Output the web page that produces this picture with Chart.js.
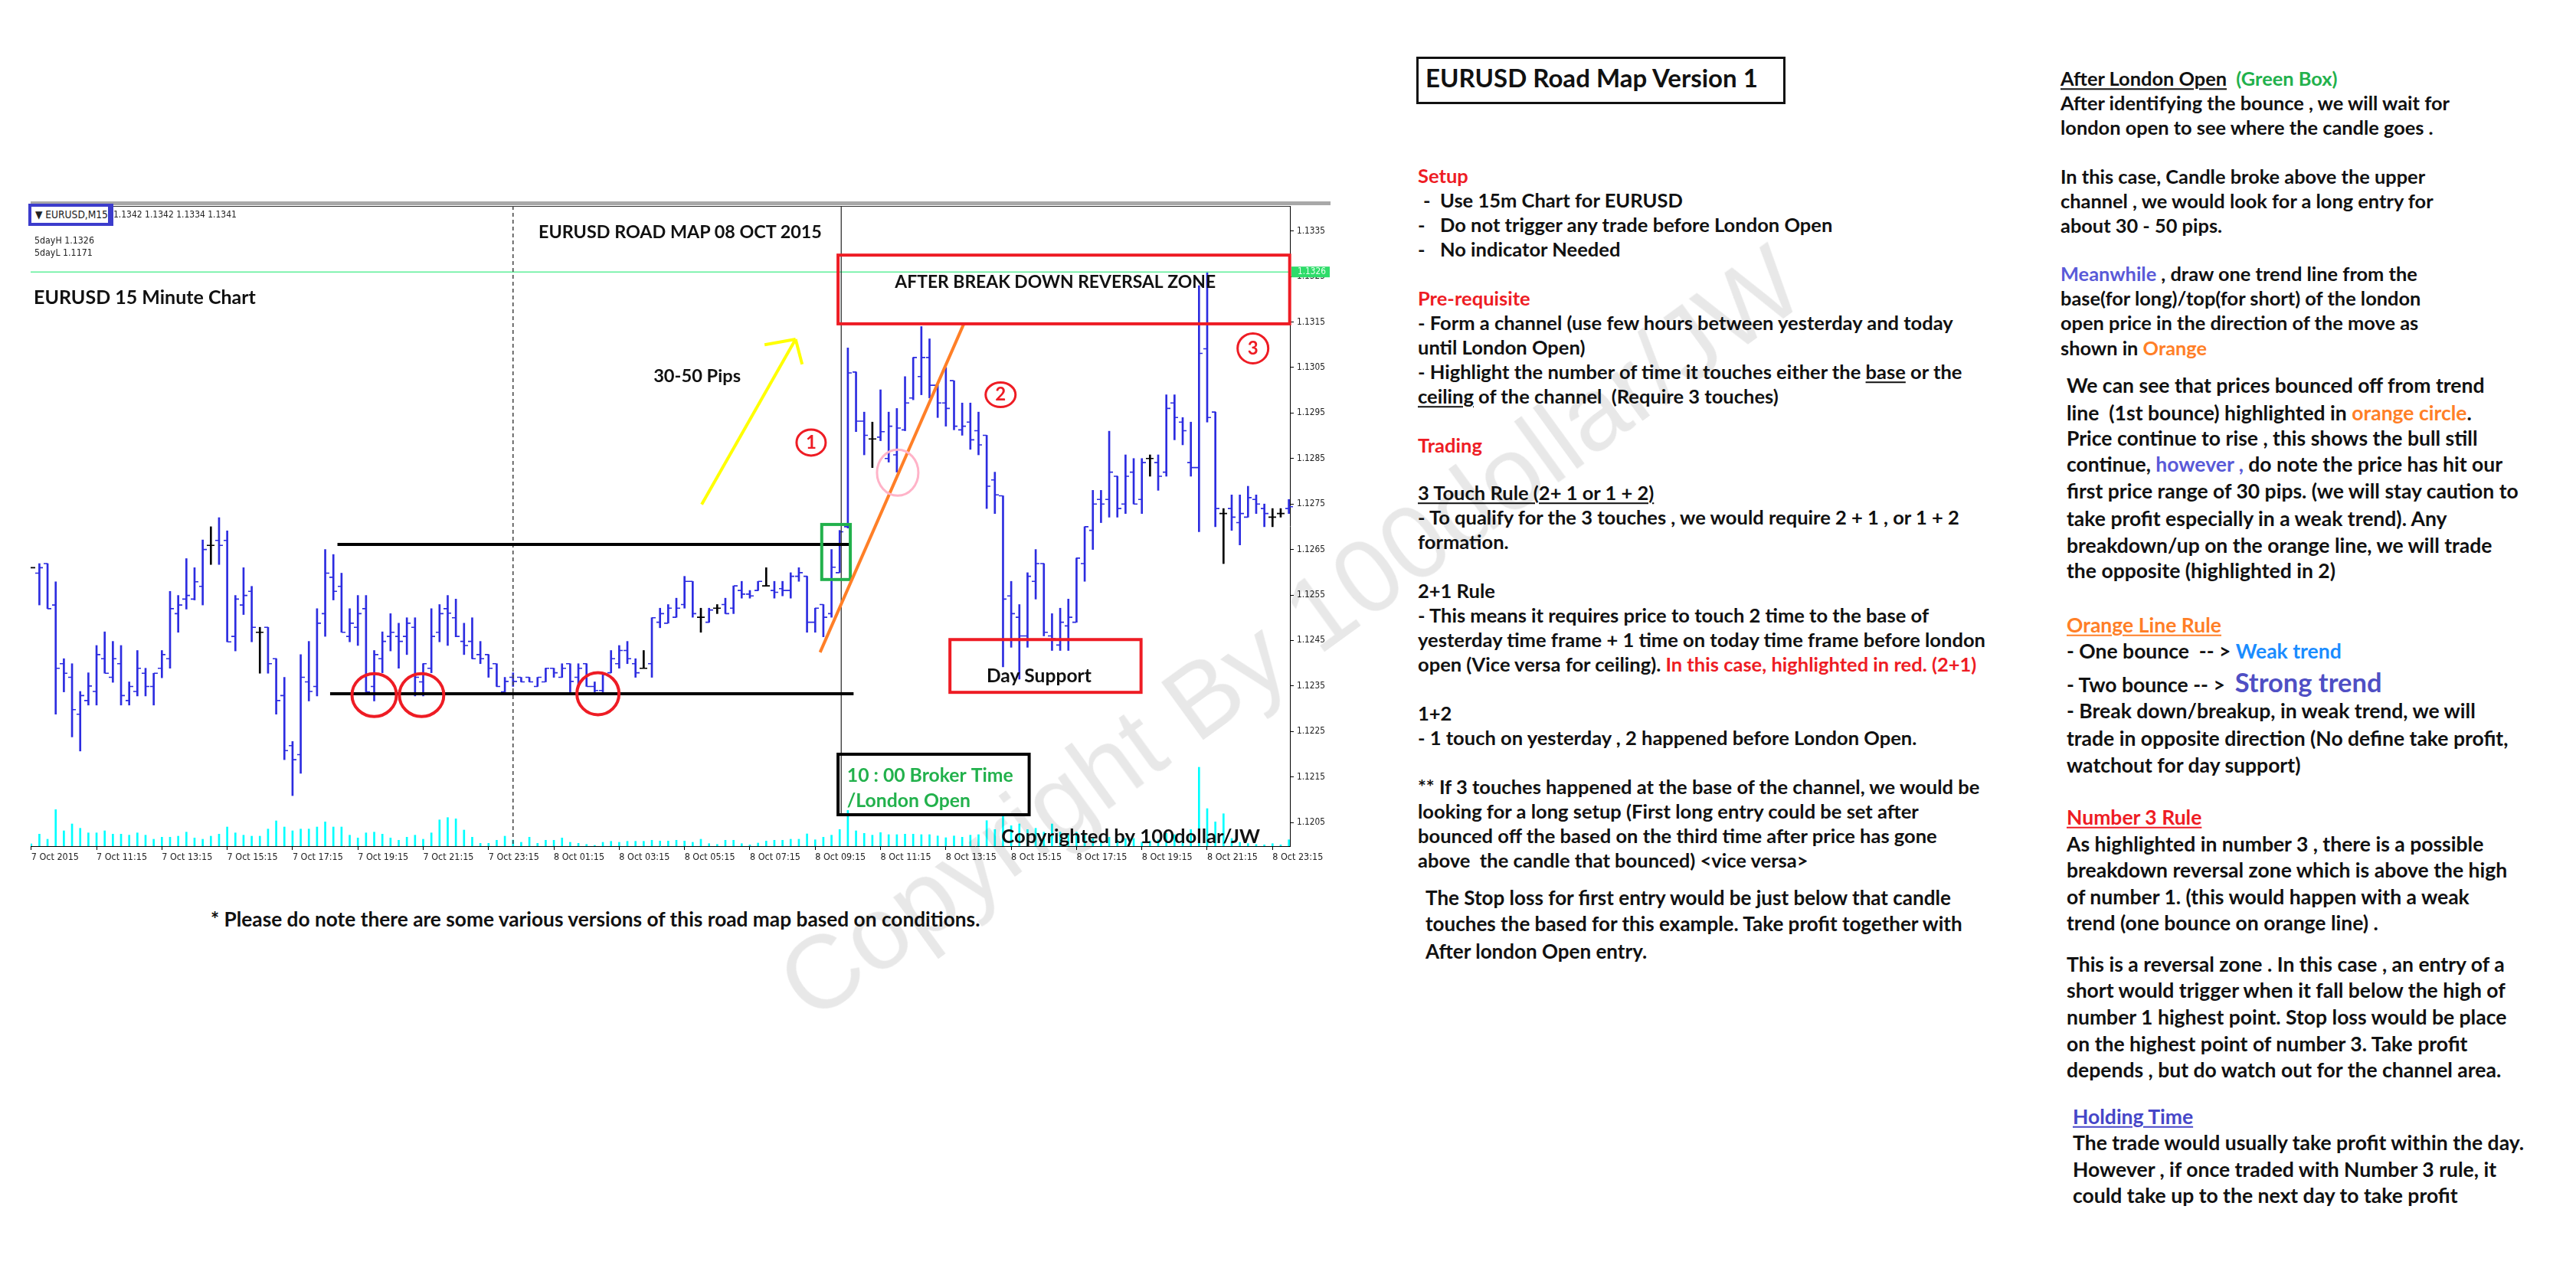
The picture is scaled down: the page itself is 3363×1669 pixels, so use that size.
<!DOCTYPE html>
<html>
<head>
<meta charset="utf-8">
<title>EURUSD Road Map Version 1</title>
<script src="https://cdn.jsdelivr.net/npm/chart.js@4.4.1/dist/chart.umd.min.js"></script>
<style>
  html, body { margin: 0; padding: 0; background: #fff; }
  #page { position: relative; width: 3363px; height: 1669px; overflow: hidden; color: #111; font-family: Lato, 'Open Sans', sans-serif; }
  #chartBox { position: absolute; left: 40px; top: 269px; width: 1704px; height: 866px; }
  .ln { position: absolute; white-space: pre; line-height: 1; transform: translateY(-50%); }
  .gm1, .gm2, .gm3 { font-family: 'DejaVu Sans Condensed', 'DejaVu Sans', sans-serif; font-size: 12px; color: #222; }
  .gA, .gB { font-weight: 700; font-size: 25px; }
  .gS, .gC, .gT, .gH1, .gH2, .gP { font-weight: 700; font-size: 26px; }
  .red { color: #ee1c24; }
  .org { color: #ff7f27; }
  .grn { color: #22b14c; }
  .blu { color: #5a5ad8; }
  .lblu { color: #1a8cff; }
  .hblu { color: #4646c8; }
  .strong { color: #4f4fc4; font-size: 1.3em; }
  u { text-decoration-thickness: 2px; text-underline-offset: 3px; }
  #topBar { position: absolute; left: 40px; top: 263px; width: 1697px; height: 5px; background: #a8a8a8; }
  #symBox { position: absolute; left: 37px; top: 266px; width: 111px; height: 29px; box-sizing: border-box; border: 4px solid #3c3ccc; border-right-width: 7px; background: #fff; }
  #titleBox { position: absolute; left: 1849px; top: 74px; width: 482px; height: 62px; box-sizing: border-box; border: 3px solid #111; }
  #mark { position: absolute; left: 1684px; top: 826px; transform: translate(-50%, -50%) rotate(-36deg); font: 136px 'Liberation Sans', Arimo, sans-serif; color: rgba(0, 0, 0, 0.09); white-space: nowrap; pointer-events: none; }
</style>
</head>
<body>
<div id="page">
  <div id="topBar"></div>
  <div id="chartBox"><canvas id="chart"></canvas></div>
  <div id="symBox"></div>
  <div id="titleBox"></div>
</div>
<script>
// 15 minute bars, 7 Oct 2015 09:15 -> 8 Oct 2015 23:45 (155 bars)
const X_LABELS = ['7 Oct 2015', '7 Oct 11:15', '7 Oct 13:15', '7 Oct 15:15', '7 Oct 17:15', '7 Oct 19:15',
  '7 Oct 21:15', '7 Oct 23:15', '8 Oct 01:15', '8 Oct 03:15', '8 Oct 05:15', '8 Oct 07:15', '8 Oct 09:15',
  '8 Oct 11:15', '8 Oct 13:15', '8 Oct 15:15', '8 Oct 17:15', '8 Oct 19:15', '8 Oct 21:15', '8 Oct 23:15'];

const PRICE_TICKS = [1.1205, 1.1215, 1.1225, 1.1235, 1.1245, 1.1255, 1.1265, 1.1275, 1.1285, 1.1295,
  1.1305, 1.1315, 1.1325, 1.1335];

const OPEN = [
  1.12610, 1.12598, 1.12619, 1.12528, 1.12399, 1.12369, 1.12288, 1.12318, 1.12338, 1.12410,
  1.12369, 1.12399, 1.12318, 1.12338, 1.12378, 1.12349, 1.12389, 1.12410, 1.12509, 1.12541,
  1.12541, 1.12569, 1.12659, 1.12670, 1.12670, 1.12459, 1.12528, 1.12558, 1.12468, 1.12479,
  1.12410, 1.12329, 1.12219, 1.12199, 1.12359, 1.12349, 1.12509, 1.12589, 1.12569, 1.12459,
  1.12479, 1.12520, 1.12349, 1.12410, 1.12459, 1.12459, 1.12459, 1.12479, 1.12359, 1.12389,
  1.12468, 1.12520, 1.12500, 1.12448, 1.12448, 1.12419, 1.12419, 1.12399, 1.12337, 1.12369,
  1.12369, 1.12369, 1.12349, 1.12359, 1.12389, 1.12369, 1.12399, 1.12369, 1.12399, 1.12349,
  1.12340, 1.12379, 1.12399, 1.12428, 1.12399, 1.12389, 1.12399, 1.12490, 1.12488, 1.12501,
  1.12529, 1.12580, 1.12501, 1.12490, 1.12521, 1.12529, 1.12521, 1.12560, 1.12552, 1.12560,
  1.12570, 1.12560, 1.12564, 1.12560, 1.12591, 1.12591, 1.12490, 1.12529, 1.12509, 1.12599,
  1.12700, 1.13040, 1.12932, 1.12893, 1.12897, 1.12850, 1.12858, 1.12913, 1.12983, 1.13030,
  1.13072, 1.13011, 1.12972, 1.13021, 1.12913, 1.12930, 1.12911, 1.12901, 1.12803, 1.12768,
  1.12548, 1.12501, 1.12460, 1.12580, 1.12619, 1.12460, 1.12440, 1.12482, 1.12490, 1.12619,
  1.12692, 1.12760, 1.12760, 1.12811, 1.12750, 1.12820, 1.12760, 1.12850, 1.12841, 1.12820,
  1.12972, 1.12930, 1.12841, 1.12830, 1.13091, 1.12952, 1.12729, 1.12740, 1.12709, 1.12721,
  1.12760, 1.12740, 1.12721, 1.12729, 1.12740];

const HIGH = [
  1.12610, 1.12619, 1.12619, 1.12579, 1.12410, 1.12399, 1.12338, 1.12379, 1.12439, 1.12469,
  1.12448, 1.12439, 1.12359, 1.12428, 1.12389, 1.12378, 1.12428, 1.12558, 1.12549, 1.12630,
  1.12610, 1.12671, 1.12700, 1.12720, 1.12691, 1.12549, 1.12610, 1.12569, 1.12479, 1.12479,
  1.12410, 1.12369, 1.12228, 1.12419, 1.12448, 1.12520, 1.12650, 1.12639, 1.12598, 1.12520,
  1.12549, 1.12549, 1.12428, 1.12469, 1.12509, 1.12488, 1.12500, 1.12500, 1.12399, 1.12520,
  1.12529, 1.12549, 1.12541, 1.12488, 1.12500, 1.12448, 1.12419, 1.12399, 1.12369, 1.12379,
  1.12369, 1.12369, 1.12369, 1.12389, 1.12389, 1.12399, 1.12399, 1.12399, 1.12399, 1.12359,
  1.12379, 1.12428, 1.12439, 1.12448, 1.12410, 1.12428, 1.12500, 1.12521, 1.12529, 1.12543,
  1.12591, 1.12580, 1.12521, 1.12521, 1.12529, 1.12543, 1.12570, 1.12580, 1.12560, 1.12580,
  1.12610, 1.12580, 1.12580, 1.12599, 1.12610, 1.12591, 1.12521, 1.12529, 1.12650, 1.12692,
  1.13093, 1.13040, 1.12952, 1.12930, 1.13001, 1.12952, 1.12960, 1.13030, 1.13072, 1.13140,
  1.13113, 1.13011, 1.13050, 1.13021, 1.12972, 1.12972, 1.12952, 1.12901, 1.12820, 1.12768,
  1.12580, 1.12529, 1.12599, 1.12650, 1.12619, 1.12509, 1.12521, 1.12541, 1.12631, 1.12700,
  1.12780, 1.12780, 1.12910, 1.12811, 1.12858, 1.12850, 1.12850, 1.12858, 1.12858, 1.12990,
  1.12990, 1.12940, 1.12930, 1.13230, 1.13260, 1.12952, 1.12740, 1.12770, 1.12770, 1.12789,
  1.12770, 1.12750, 1.12740, 1.12740, 1.12760];

const LOW = [
  1.12610, 1.12528, 1.12520, 1.12288, 1.12337, 1.12238, 1.12207, 1.12308, 1.12308, 1.12378,
  1.12358, 1.12308, 1.12308, 1.12328, 1.12328, 1.12308, 1.12368, 1.12389, 1.12468, 1.12519,
  1.12539, 1.12528, 1.12617, 1.12617, 1.12447, 1.12427, 1.12507, 1.12447, 1.12378, 1.12378,
  1.12288, 1.12188, 1.12109, 1.12158, 1.12317, 1.12328, 1.12459, 1.12539, 1.12468, 1.12447,
  1.12439, 1.12337, 1.12317, 1.12379, 1.12427, 1.12389, 1.12419, 1.12328, 1.12328, 1.12379,
  1.12447, 1.12439, 1.12458, 1.12419, 1.12410, 1.12399, 1.12369, 1.12349, 1.12337, 1.12349,
  1.12359, 1.12359, 1.12349, 1.12359, 1.12369, 1.12369, 1.12337, 1.12349, 1.12349, 1.12337,
  1.12337, 1.12379, 1.12389, 1.12399, 1.12369, 1.12389, 1.12369, 1.12478, 1.12488, 1.12501,
  1.12521, 1.12501, 1.12468, 1.12490, 1.12509, 1.12509, 1.12509, 1.12543, 1.12543, 1.12560,
  1.12570, 1.12543, 1.12548, 1.12543, 1.12580, 1.12468, 1.12468, 1.12458, 1.12501, 1.12599,
  1.12697, 1.12909, 1.12858, 1.12830, 1.12889, 1.12842, 1.12820, 1.12911, 1.12979, 1.12990,
  1.12983, 1.12940, 1.12921, 1.12913, 1.12901, 1.12870, 1.12858, 1.12740, 1.12729, 1.12392,
  1.12435, 1.12365, 1.12435, 1.12541, 1.12460, 1.12428, 1.12428, 1.12428, 1.12490, 1.12580,
  1.12650, 1.12709, 1.12721, 1.12721, 1.12729, 1.12750, 1.12729, 1.12811, 1.12780, 1.12811,
  1.12891, 1.12880, 1.12811, 1.12689, 1.12930, 1.12700, 1.12619, 1.12692, 1.12660, 1.12721,
  1.12729, 1.12700, 1.12700, 1.12721, 1.12729];

const CLOSE = [
  1.12610, 1.12610, 1.12520, 1.12389, 1.12378, 1.12298, 1.12329, 1.12350, 1.12419, 1.12378,
  1.12410, 1.12329, 1.12349, 1.12389, 1.12349, 1.12378, 1.12419, 1.12520, 1.12528, 1.12549,
  1.12579, 1.12650, 1.12659, 1.12659, 1.12447, 1.12541, 1.12549, 1.12479, 1.12468, 1.12399,
  1.12318, 1.12208, 1.12188, 1.12369, 1.12338, 1.12488, 1.12598, 1.12558, 1.12468, 1.12488,
  1.12509, 1.12337, 1.12419, 1.12448, 1.12468, 1.12448, 1.12488, 1.12369, 1.12399, 1.12459,
  1.12509, 1.12510, 1.12459, 1.12439, 1.12410, 1.12410, 1.12389, 1.12349, 1.12360, 1.12360,
  1.12359, 1.12359, 1.12369, 1.12389, 1.12379, 1.12389, 1.12360, 1.12389, 1.12349, 1.12340,
  1.12375, 1.12410, 1.12428, 1.12410, 1.12379, 1.12389, 1.12500, 1.12509, 1.12521, 1.12521,
  1.12580, 1.12509, 1.12501, 1.12517, 1.12521, 1.12509, 1.12570, 1.12552, 1.12548, 1.12580,
  1.12570, 1.12556, 1.12560, 1.12591, 1.12599, 1.12490, 1.12521, 1.12501, 1.12611, 1.12689,
  1.13038, 1.12932, 1.12901, 1.12893, 1.12909, 1.12921, 1.12917, 1.12972, 1.13072, 1.13072,
  1.13011, 1.12972, 1.12960, 1.12921, 1.12921, 1.12891, 1.12880, 1.12789, 1.12770, 1.12541,
  1.12509, 1.12460, 1.12591, 1.12619, 1.12468, 1.12454, 1.12490, 1.12501, 1.12631, 1.12700,
  1.12750, 1.12750, 1.12820, 1.12740, 1.12811, 1.12750, 1.12841, 1.12850, 1.12811, 1.12960,
  1.12940, 1.12911, 1.12830, 1.13081, 1.12940, 1.12740, 1.12729, 1.12721, 1.12729, 1.12764,
  1.12750, 1.12729, 1.12721, 1.12729, 1.12744];

const VOLUME = [
  30, 157, 90, 477, 200, 290, 233, 173, 173, 200,
  157, 157, 143, 173, 143, 90, 117, 117, 130, 183,
  107, 90, 130, 157, 250, 173, 143, 130, 130, 223,
  330, 250, 200, 223, 223, 250, 317, 250, 250, 143,
  107, 173, 183, 157, 107, 77, 117, 143, 90, 173,
  343, 373, 357, 210, 117, 37, 37, 77, 130, 80,
  50, 117, 37, 77, 77, 107, 50, 37, 23, 10,
  50, 63, 50, 63, 63, 63, 77, 67, 67, 77,
  67, 50, 90, 33, 23, 77, 77, 33, 17, 40,
  67, 77, 77, 90, 90, 160, 83, 117, 143, 217,
  467, 200, 167, 143, 177, 150, 150, 157, 157, 150,
  150, 133, 110, 133, 117, 143, 150, 333, 217, 400,
  267, 290, 217, 233, 183, 290, 183, 150, 183, 157,
  100, 67, 117, 83, 100, 100, 50, 67, 83, 167,
  150, 133, 217, 1030, 490, 317, 423, 100, 50, 33,
  23, 17, 33, 17, 83];

const DAY_HIGH = 1.1326;
const CHANNEL_TOP = 1.12661;
const CHANNEL_BASE = 1.12333;
const DAY_SEPARATOR = 59;   // 8 Oct 00:00
const LONDON_OPEN = 99;     // 8 Oct 10:00

const BAR_COLOR = '#2c2ce0';
const DOJI_COLOR = '#000000';
const RED = '#ee1c24';
const AXIS_FAMILY = "'DejaVu Sans Condensed', 'DejaVu Sans', sans-serif";

const probe = document.createElement('canvas').getContext('2d');
function sizeFor(text, font, target) {
  probe.font = `${font} 100px ${font === 'bold' ? 'Lato' : AXIS_FAMILY}`;
  return 100 * target / probe.measureText(text).width;
}
const X_FONT = { family: AXIS_FAMILY, size: sizeFor('7 Oct 11:15', 'normal', 66) };
const Y_FONT = { family: AXIS_FAMILY, size: sizeFor('1.1335', 'normal', 37) };

function barColor(i) {
  return OPEN[i] === CLOSE[i] ? DOJI_COLOR : BAR_COLOR;
}

const marks = {
  id: 'marks',
  afterDatasetsDraw(chart) {
    const { ctx, chartArea: a } = chart;
    const xs = chart.scales.x;
    const ys = chart.scales.y;
    const X = (v) => xs.getPixelForValue(v);
    const Y = (v) => ys.getPixelForValue(v);

    const line = (x1, y1, x2, y2, color, w, dash) => {
      ctx.save();
      ctx.strokeStyle = color;
      ctx.lineWidth = w;
      if (dash) ctx.setLineDash(dash);
      ctx.beginPath();
      ctx.moveTo(x1, y1);
      ctx.lineTo(x2, y2);
      ctx.stroke();
      ctx.restore();
    };
    const ellipse = (i, p, rx, ry, color, w) => {
      ctx.save();
      ctx.strokeStyle = color;
      ctx.lineWidth = w;
      ctx.beginPath();
      ctx.ellipse(X(i), Y(p), rx, ry, 0, 0, Math.PI * 2);
      ctx.stroke();
      ctx.restore();
    };
    const box = (i0, i1, p0, p1, color, w) => {
      ctx.save();
      ctx.strokeStyle = color;
      ctx.lineWidth = w;
      ctx.strokeRect(X(i0), Y(p1), X(i1) - X(i0), Y(p0) - Y(p1));
      ctx.restore();
    };
    const text = (str, i, p, size, color, align) => {
      ctx.save();
      ctx.font = `bold ${size}px Lato`;
      ctx.fillStyle = color;
      ctx.textAlign = align;
      ctx.textBaseline = 'middle';
      ctx.fillText(str, X(i), Y(p));
      ctx.restore();
    };

    // open (left) and close (right) ticks of each bar
    ctx.save();
    ctx.lineWidth = 1.6;
    OPEN.forEach((o, i) => {
      const px = Math.round(X(i));
      ctx.strokeStyle = barColor(i);
      ctx.beginPath();
      ctx.moveTo(px - 5, Y(o));
      ctx.lineTo(px, Y(o));
      ctx.moveTo(px, Y(CLOSE[i]));
      ctx.lineTo(px + 5, Y(CLOSE[i]));
      ctx.stroke();
    });
    ctx.restore();

    // frame top, 5 day high, separators
    line(a.left, a.top + 0.5, a.right, a.top + 0.5, '#333', 1);
    line(a.left, Y(DAY_HIGH), a.right, Y(DAY_HIGH), '#5fef9a', 1.5);
    line(X(DAY_SEPARATOR), a.top, X(DAY_SEPARATOR), a.bottom, '#444', 1.5, [5, 4]);
    line(X(LONDON_OPEN) + 2, a.top - 4, X(LONDON_OPEN) + 2, Y(1.12067), '#222', 1.2);

    // channel and its three touches
    line(X(37.5), Y(CHANNEL_TOP), X(100.2), Y(CHANNEL_TOP), '#000', 4);
    line(X(36.6), Y(CHANNEL_BASE), X(100.7), Y(CHANNEL_BASE), '#000', 4);
    ellipse(42.0, 1.12330, 29, 28, RED, 4);
    ellipse(47.8, 1.12330, 29, 28, RED, 4);
    ellipse(69.4, 1.12333, 27.5, 27.5, RED, 4);

    // yellow arrow and target text
    line(X(82.1), Y(1.12749), X(93.6), Y(1.13112), '#ffff00', 4);
    line(X(93.6), Y(1.13112), X(89.8), Y(1.13100), '#ffff00', 4);
    line(X(93.6), Y(1.13112), X(94.4), Y(1.13057), '#ffff00', 4);
    text('30-50 Pips', 76.2, 1.13031, sizeFor('30-50 Pips', 'bold', 114), '#111', 'left');

    // london open breakout box and trend line
    box(96.8, 100.3, 1.12584, 1.12705, '#22b14c', 4);
    line(X(96.6), Y(1.12424), X(114.2), Y(1.13146), '#ff7f27', 4);
    ellipse(106.1, 1.12819, 27, 30, '#ffb3c8', 3);

    // numbered points
    [[95.5, 1.12885, 19, 17, '1'], [118.7, 1.12990, 19.5, 16, '2'], [149.6, 1.13092, 20, 19.5, '3']].forEach((c) => {
      ellipse(c[0], c[1], c[2], c[3], RED, 3);
      text(c[4], c[0], c[1], 24, RED, 'center');
    });

    // reversal zone
    box(98.8, 154.1, 1.13146, 1.13297, RED, 4);
    const zone = 'AFTER BREAK DOWN REVERSAL ZONE';
    text(zone, 125.4, 1.13237, sizeFor(zone, 'bold', 419), '#111', 'center');

    // day support
    box(112.5, 135.9, 1.12336, 1.12452, RED, 4);
    text('Day Support', 123.4, 1.12372, sizeFor('Day Support', 'bold', 137), '#111', 'center');

    // london open label
    box(98.8, 122.2, 1.12067, 1.12200, '#000', 4);
    const lo = sizeFor('10 : 00 Broker Time', 'bold', 217);
    text('10 : 00 Broker Time', 99.9, 1.12153, lo, '#22b14c', 'left');
    text('/London Open', 99.9, 1.12097, lo, '#22b14c', 'left');

    const cp = 'Copyrighted by 100dollar/JW';
    text(cp, 118.8, 1.12018, sizeFor(cp, 'bold', 338), '#111', 'left');

    // 5 day high price label on the axis
    ctx.save();
    ctx.fillStyle = '#2fdc6a';
    ctx.fillRect(a.right + 2, Y(DAY_HIGH) - 7, 50, 14);
    ctx.fillStyle = '#eafff0';
    ctx.font = `${Y_FONT.size}px ${AXIS_FAMILY}`;
    ctx.textBaseline = 'middle';
    ctx.fillText(DAY_HIGH.toFixed(4), a.right + 10, Y(DAY_HIGH));
    ctx.restore();
  },
};

new Chart(document.getElementById('chart'), {
  type: 'bar',
  data: {
    datasets: [
      {
        label: 'EURUSD,M15',
        data: OPEN.map((_, i) => ({ x: i, y: [LOW[i], HIGH[i]] })),
        backgroundColor: OPEN.map((_, i) => barColor(i)),
        barThickness: 2,
        grouped: false,
        order: 0,
        yAxisID: 'y',
      },
      {
        label: 'Volume',
        data: VOLUME.map((v, i) => ({ x: i, y: v })),
        backgroundColor: '#00ffff',
        barThickness: 2,
        grouped: false,
        order: 1,
        yAxisID: 'vol',
      },
    ],
  },
  options: {
    responsive: true,
    maintainAspectRatio: false,
    animation: false,
    devicePixelRatio: 1,
    layout: { padding: 0 },
    plugins: { legend: { display: false }, tooltip: { enabled: false } },
    scales: {
      x: {
        type: 'linear',
        min: -0.07,
        max: 154.13,
        offset: false,
        afterBuildTicks: (s) => { s.ticks = X_LABELS.map((_, k) => ({ value: k * 8 })); },
        afterFit: (s) => { s.height = 30; s.paddingLeft = 0; s.paddingRight = 0; },
        ticks: {
          callback: (v) => X_LABELS[Math.round(v / 8)],
          align: 'start',
          maxRotation: 0,
          autoSkip: false,
          color: '#222',
          font: X_FONT,
          padding: 2,
        },
        grid: { drawOnChartArea: false, offset: false, tickLength: 5, color: '#000' },
        border: { color: '#000', width: 1 },
      },
      y: {
        position: 'right',
        min: 1.11998,
        max: 1.13405,
        afterBuildTicks: (s) => { s.ticks = PRICE_TICKS.map((v) => ({ value: v })); },
        afterFit: (s) => { s.width = 60; s.paddingTop = 0; s.paddingBottom = 0; },
        ticks: { callback: (v) => v.toFixed(4), color: '#222', font: Y_FONT, padding: 4, autoSkip: false },
        grid: { drawOnChartArea: false, tickLength: 5, color: '#000' },
        border: { color: '#000', width: 1 },
      },
      vol: { display: false, min: 0, max: 8360 },
    },
  },
  plugins: [marks],
});

// texts around the chart and the two notes columns
const NOTES = [
  { x: 46, y: 281, g: 'gm1', h: '&#9660; EURUSD,M15', w: 95 },
  { x: 148, y: 281, g: 'gm2', h: '1.1342 1.1342 1.1334 1.1341', w: 161 },
  { x: 45, y: 314, g: 'gm3', h: '5dayH 1.1326', w: 78 },
  { x: 45, y: 330, g: 'gm3', h: '5dayL 1.1171' },
  { x: 44, y: 388, g: 'gH1', h: 'EURUSD 15 Minute Chart', w: 290 },
  { x: 703, y: 303, g: 'gH2', h: 'EURUSD ROAD MAP 08 OCT 2015', w: 370 },
  { x: 275, y: 1200, g: 'gP', h: '* Please do note there are some various versions of this road map based on conditions.', w: 1005 },
  { x: 1861, y: 102, g: 'gT', h: 'EURUSD Road Map Version 1', w: 434 },

  { x: 1851, y: 230, g: 'gA', h: '<span class="red">Setup</span>' },
  { x: 1858, y: 262, g: 'gA', h: '-' },
  { x: 1880, y: 262, g: 'gA', h: 'Use 15m Chart for EURUSD' },
  { x: 1851, y: 294, g: 'gA', h: '-' },
  { x: 1880, y: 294, g: 'gA', h: 'Do not trigger any trade before London Open' },
  { x: 1851, y: 326, g: 'gA', h: '-' },
  { x: 1880, y: 326, g: 'gA', h: 'No indicator Needed' },
  { x: 1851, y: 390, g: 'gA', h: '<span class="red">Pre-requisite</span>' },
  { x: 1851, y: 422, g: 'gA', h: '- Form a channel (use few hours between yesterday and today', w: 699 },
  { x: 1851, y: 454, g: 'gA', h: 'until London Open)' },
  { x: 1851, y: 486, g: 'gA', h: '- Highlight the number of time it touches either the <u>base</u> or the' },
  { x: 1851, y: 518, g: 'gA', h: '<u>ceiling</u> of the channel  (Require 3 touches)' },
  { x: 1851, y: 582, g: 'gA', h: '<span class="red">Trading</span>' },
  { x: 1851, y: 644, g: 'gA', h: '<u>3 Touch Rule (2+ 1 or 1 + 2)</u>' },
  { x: 1851, y: 676, g: 'gA', h: '- To qualify for the 3 touches , we would require 2 + 1 , or 1 + 2' },
  { x: 1851, y: 708, g: 'gA', h: 'formation.' },
  { x: 1851, y: 772, g: 'gA', h: '2+1 Rule' },
  { x: 1851, y: 804, g: 'gA', h: '- This means it requires price to touch 2 time to the base of' },
  { x: 1851, y: 836, g: 'gA', h: 'yesterday time frame + 1 time on today time frame before london' },
  { x: 1851, y: 868, g: 'gA', h: 'open (Vice versa for ceiling). <span class="red">In this case, highlighted in red. (2+1)</span>' },
  { x: 1851, y: 932, g: 'gA', h: '1+2' },
  { x: 1851, y: 964, g: 'gA', h: '- 1 touch on yesterday , 2 happened before London Open.' },
  { x: 1851, y: 1028, g: 'gA', h: '** If 3 touches happened at the base of the channel, we would be' },
  { x: 1851, y: 1060, g: 'gA', h: 'looking for a long setup (First long entry could be set after' },
  { x: 1851, y: 1092, g: 'gA', h: 'bounced off the based on the third time after price has gone' },
  { x: 1851, y: 1124, g: 'gA', h: 'above  the candle that bounced) &lt;vice versa&gt;' },
  { x: 1861, y: 1172, g: 'gS', h: 'The Stop loss for first entry would be just below that candle', w: 686 },
  { x: 1861, y: 1206, g: 'gS', h: 'touches the based for this example. Take profit together with' },
  { x: 1861, y: 1242, g: 'gS', h: 'After london Open entry.' },

  { x: 2690, y: 103, g: 'gB', h: '<u>After London Open</u>  <span class="grn">(Green Box)</span>' },
  { x: 2690, y: 135, g: 'gB', h: 'After identifying the bounce , we will wait for', w: 508 },
  { x: 2690, y: 167, g: 'gB', h: 'london open to see where the candle goes .' },
  { x: 2690, y: 231, g: 'gB', h: 'In this case, Candle broke above the upper' },
  { x: 2690, y: 263, g: 'gB', h: 'channel , we would look for a long entry for' },
  { x: 2690, y: 295, g: 'gB', h: 'about 30 - 50 pips.' },
  { x: 2690, y: 358, g: 'gB', h: '<span class="blu">Meanwhile</span> , draw one trend line from the' },
  { x: 2690, y: 390, g: 'gB', h: 'base(for long)/top(for short) of the london' },
  { x: 2690, y: 422, g: 'gB', h: 'open price in the direction of the move as' },
  { x: 2690, y: 455, g: 'gB', h: 'shown in <span class="org">Orange</span>' },
  { x: 2698, y: 503, g: 'gC', h: 'We can see that prices bounced off from trend' },
  { x: 2698, y: 539, g: 'gC', h: 'line  (1st bounce) highlighted in <span class="org">orange circle</span>.' },
  { x: 2698, y: 572, g: 'gC', h: 'Price continue to rise , this shows the bull still' },
  { x: 2698, y: 606, g: 'gC', h: 'continue, <span class="blu">however ,</span> do note the price has hit our' },
  { x: 2698, y: 641, g: 'gC', h: 'first price range of 30 pips. (we will stay caution to', w: 590 },
  { x: 2698, y: 677, g: 'gC', h: 'take profit especially in a weak trend). Any' },
  { x: 2698, y: 712, g: 'gC', h: 'breakdown/up on the orange line, we will trade' },
  { x: 2698, y: 745, g: 'gC', h: 'the opposite (highlighted in 2)' },
  { x: 2698, y: 816, g: 'gC', h: '<u class="org">Orange Line Rule</u>' },
  { x: 2698, y: 850, g: 'gC', h: '- One bounce  -- &gt; <span class="lblu">Weak trend</span>' },
  { x: 2698, y: 891, g: 'gC', h: '- Two bounce -- &gt;  <span class="strong">Strong trend</span>' },
  { x: 2698, y: 928, g: 'gC', h: '- Break down/breakup, in weak trend, we will' },
  { x: 2698, y: 964, g: 'gC', h: 'trade in opposite direction (No define take profit,' },
  { x: 2698, y: 999, g: 'gC', h: 'watchout for day support)' },
  { x: 2698, y: 1067, g: 'gC', h: '<u class="red">Number 3 Rule</u>' },
  { x: 2698, y: 1102, g: 'gC', h: 'As highlighted in number 3 , there is a possible' },
  { x: 2698, y: 1136, g: 'gC', h: 'breakdown reversal zone which is above the high' },
  { x: 2698, y: 1171, g: 'gC', h: 'of number 1. (this would happen with a weak' },
  { x: 2698, y: 1205, g: 'gC', h: 'trend (one bounce on orange line) .' },
  { x: 2698, y: 1259, g: 'gC', h: 'This is a reversal zone . In this case , an entry of a' },
  { x: 2698, y: 1293, g: 'gC', h: 'short would trigger when it fall below the high of' },
  { x: 2698, y: 1328, g: 'gC', h: 'number 1 highest point. Stop loss would be place' },
  { x: 2698, y: 1363, g: 'gC', h: 'on the highest point of number 3. Take profit' },
  { x: 2698, y: 1397, g: 'gC', h: 'depends , but do watch out for the channel area.' },
  { x: 2706, y: 1458, g: 'gC', h: '<u class="hblu">Holding Time</u>' },
  { x: 2706, y: 1492, g: 'gC', h: 'The trade would usually take profit within the day.' },
  { x: 2706, y: 1527, g: 'gC', h: 'However , if once traded with Number 3 rule, it' },
  { x: 2706, y: 1561, g: 'gC', h: 'could take up to the next day to take profit' },
];

const page = document.getElementById('page');
const refs = {};
NOTES.forEach((n) => {
  const el = document.createElement('div');
  el.className = 'ln ' + n.g;
  el.style.left = n.x + 'px';
  el.style.top = n.y + 'px';
  el.innerHTML = n.h;
  page.appendChild(el);
  if (n.w) refs[n.g] = { el, w: n.w };
});

// scale each text group so its reference line matches the width in the picture
Object.keys(refs).forEach((g) => {
  const r = refs[g];
  const base = parseFloat(getComputedStyle(r.el).fontSize);
  const k = r.w / r.el.getBoundingClientRect().width;
  document.querySelectorAll('.' + g).forEach((e) => { e.style.fontSize = (base * k).toFixed(2) + 'px'; });
});

const wm = document.createElement('div');
wm.id = 'mark';
wm.textContent = 'Copyright By 100dollar/JW';
page.appendChild(wm);
</script>
</body>
</html>
